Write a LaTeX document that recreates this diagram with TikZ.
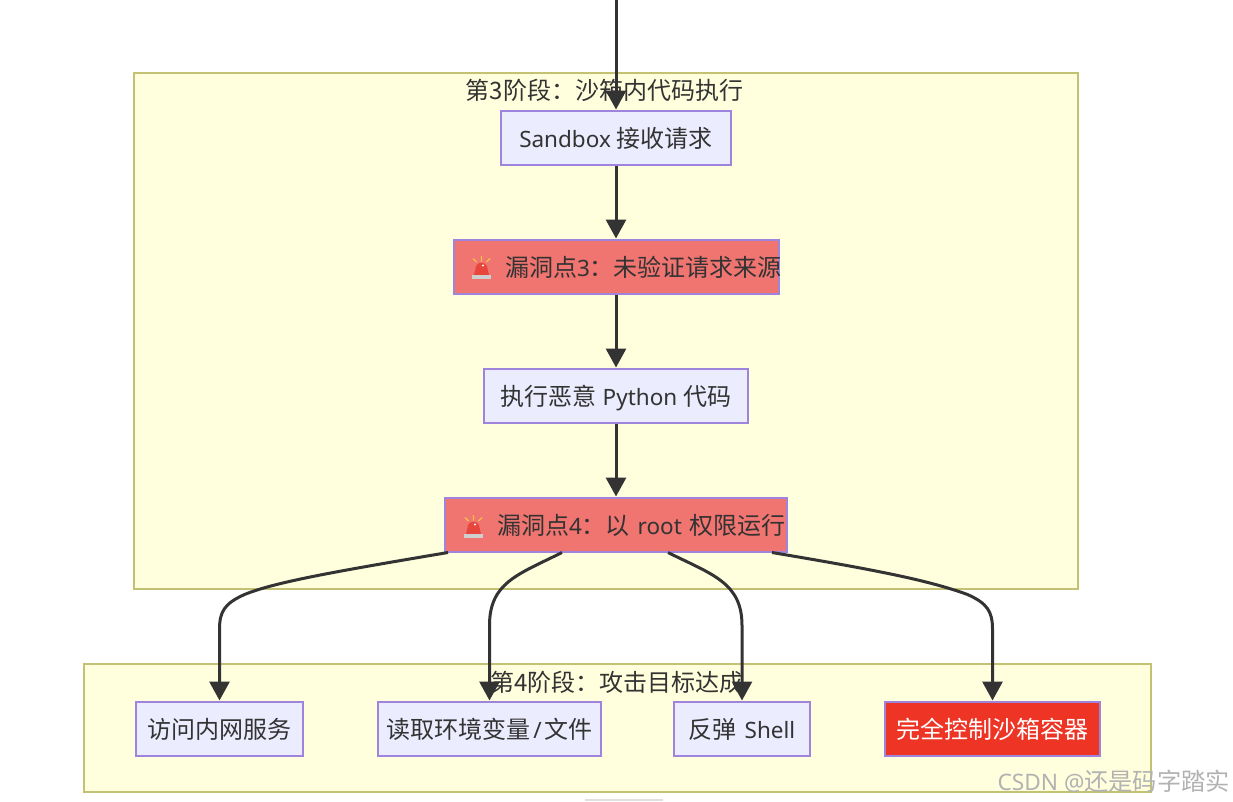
\documentclass[tikz,border=0pt]{standalone}
\usepackage{fontspec}
\setmainfont{Noto Sans}
\newfontfamily\cjk[Scale=1.0667]{Noto Sans CJK SC}
\usetikzlibrary{arrows.meta,calc}
\definecolor{ink}{HTML}{333333}
\definecolor{clusterfill}{HTML}{FFFFDE}
\definecolor{clusterline}{HTML}{C2C272}
\definecolor{nodefill}{HTML}{ECECFF}
\definecolor{nodeline}{HTML}{9F84DE}
\definecolor{alertfill}{HTML}{F07470}
\definecolor{winfill}{HTML}{EE3424}
\definecolor{alarmred}{HTML}{E8463C}
\definecolor{alarmgrey}{HTML}{CFCFCF}
\definecolor{alarmray}{HTML}{F5C04A}
\newcommand{\zh}[1]{{\cjk #1}}
\tikzset{
  x=1pt,y=-1pt,
  every node/.style={font=\fontsize{22.5}{26}\selectfont,text=ink,inner sep=0pt,text height=19pt,text depth=0pt},
  cluster/.style={draw=clusterline,fill=clusterfill,line width=2pt},
  clustertitle/.style={anchor=center},
  stepbox/.style={draw=nodeline,fill=nodefill,line width=2pt,minimum height=54pt,anchor=center},
  alertbox/.style={stepbox,fill=alertfill},
  winbox/.style={stepbox,fill=winfill,text=white},
  flow/.style={draw=ink,line width=3pt,-{Triangle[length=19pt,width=20pt]}},
  alarm/.pic={
    \fill[alarmred] (-7.5,8) -- (-6,1.7) arc[start angle=180,end angle=0,x radius=6,y radius=-6] -- (7.5,8) -- cycle;
    \fill[white] (1.5,-1.5) circle[radius=1.2];
    \fill[alarmgrey] (-9.5,8) rectangle (9.5,12);
    \draw[alarmray,line width=1.3pt] (0,-5.5) -- (0,-11) (-5,-5) -- (-8.5,-8.5) (5,-5) -- (8.5,-8.5);
  }
}
\begin{document}
\begin{tikzpicture}
\useasboundingbox (0,0) rectangle (1233,801);
\fill[white] (0,0) rectangle (1233,801);
\fill[black!12] (585,799) rectangle (663,801);

\node[cluster,minimum width=944pt,minimum height=516pt,anchor=north west] (c3) at (132.5,71.5) {};
\node[cluster,minimum width=1067pt,minimum height=128pt,anchor=north west] (c4) at (83,663) {};
\node[clustertitle] (t3) at (604.5,89.5) {\zh{第3阶段：沙箱内代码执行}};
\node[clustertitle] (t4) at (617,681.5) {\zh{第4阶段：攻击目标达成}};

\node[stepbox,minimum width=230pt] (n1) at (616,137.5) {Sandbox \zh{接收请求}};
\node[alertbox,minimum width=325pt] (n2) at (616,266.5) {\makebox[325pt][l]{\hspace{51.5pt}\zh{漏洞点}3\zh{：未验证请求来源}}};
\node[stepbox,minimum width=264pt] (n3) at (616,395.5) {\zh{执行恶意} Python \zh{代码}};
\node[alertbox,minimum width=342pt] (n4) at (616,524.5) {\makebox[342pt][l]{\hspace{52pt}\zh{漏洞点}4\zh{：以}\hspace{2pt} root \hspace{2pt}\zh{权限运行}}};

\node[stepbox,minimum width=167pt] (m1) at (219.5,728.5) {\zh{访问内网服务}};
\node[stepbox,minimum width=223pt] (m2) at (489.5,728.5) {\zh{读取环境变量}\hspace{3pt}/\hspace{3pt}\zh{文件}};
\node[stepbox,minimum width=136pt] (m3) at (742,728.5) {\zh{反弹}\hspace{2pt} Shell};
\node[winbox,minimum width=215pt] (m4) at (992.5,728.5) {\zh{完全控制沙箱容器}};

\pic at (481.5,267) {alarm};
\pic at (473.5,526) {alarm};

\coordinate (top) at (616,-4);
\coordinate (e1) at ($(n4.south west)+(4,0)$);
\coordinate (e2) at ($(n4.south west)+(118,0)$);
\coordinate (e3) at ($(n4.south west)+(224,0)$);
\coordinate (e4) at ($(n4.south west)+(328,0)$);

\draw[flow] (top) -- (n1.north);
\draw[flow] (n1) -- (n2);
\draw[flow] (n2) -- (n3);
\draw[flow] (n3) -- (n4);
\draw[flow] (e1) .. controls ($(e1)+(-119,20)$) and ($(e1)+(-174,30)$) .. ($(m1.north)+(25,-106)$) .. controls ($(m1.north)+(5,-97)$) and ($(m1.north)+(0,-89)$) .. ($(m1.north)+(0,-71)$) -- (m1.north);
\draw[flow] (e2) .. controls ($(e2)+(-44,22)$) and ($(m2.north)+(0,-118)$) .. ($(m2.north)+(0,-75)$) -- (m2.north);
\draw[flow] (e3) .. controls ($(e3)+(44,22)$) and ($(m3.north)+(0,-118)$) .. ($(m3.north)+(0,-75)$) -- (m3.north);
\draw[flow] (e4) .. controls ($(e4)+(107,18)$) and ($(e4)+(157,28)$) .. ($(m4.north)+(-25,-106)$) .. controls ($(m4.north)+(-5,-97)$) and ($(m4.north)+(0,-89)$) .. ($(m4.north)+(0,-71)$) -- (m4.north);

\node[text=black!30,font=\fontsize{22.7}{24}\selectfont,anchor=east] (wm) at (1230,780.5) {CSDN @\zh{还是码字踏实}};
\end{tikzpicture}
\end{document}
